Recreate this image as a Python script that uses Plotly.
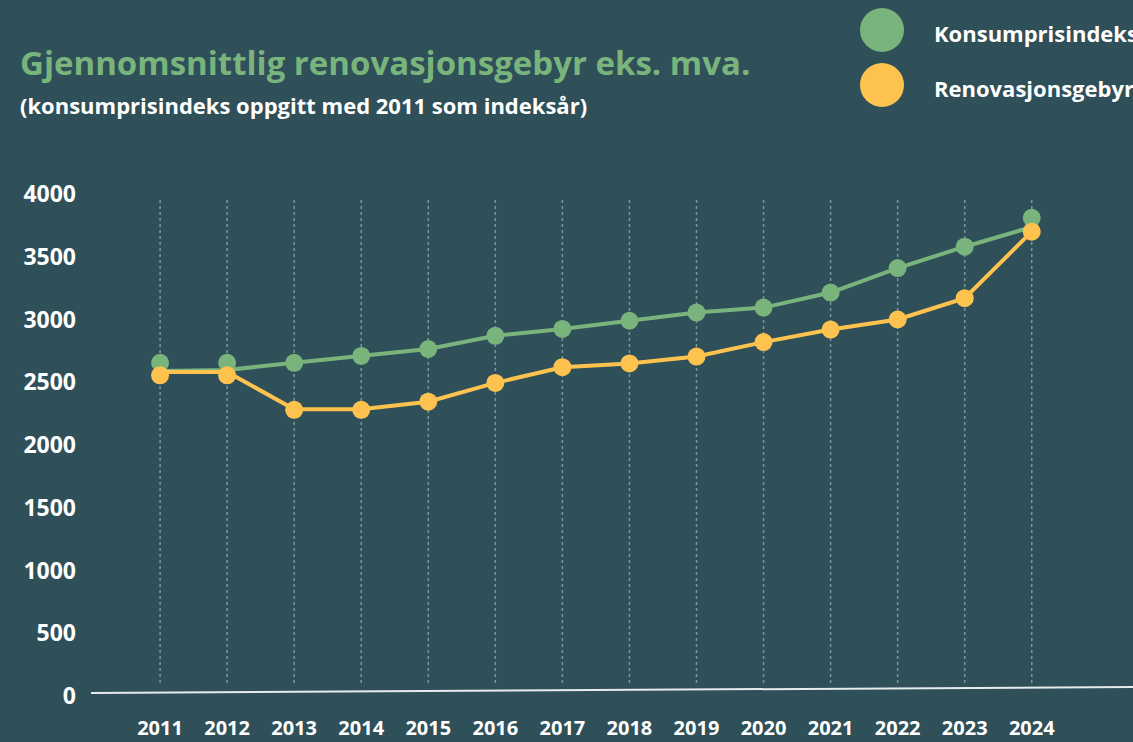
import plotly.graph_objects as go

years = list(range(2011, 2025))
# marker values
kpi_markers = [2655, 2655, 2655, 2710, 2765, 2870, 2925, 2990, 3055, 3095, 3215, 3410, 3580, 3810]
gebyr_markers = [2555, 2555, 2280, 2280, 2345, 2495, 2620, 2650, 2705, 2820, 2920, 3000, 3170, 3700]
# line values (the connecting lines sit slightly off the markers at the ends)
kpi_line = [2590, 2598, 2655, 2710, 2765, 2870, 2925, 2990, 3055, 3095, 3215, 3410, 3580, 3737]
gebyr_line = [2582, 2582, 2285, 2285, 2345, 2495, 2620, 2650, 2705, 2820, 2920, 3000, 3170, 3700]
y_ticks = [0, 500, 1000, 1500, 2000, 2500, 3000, 3500, 4000]

title = "Gjennomsnittlig renovasjonsgebyr eks. mva."
subtitle = "(konsumprisindeks oppgitt med 2011 som indeksår)"
legend_labels = ["Konsumprisindeks", "Renovasjonsgebyr"]

BG = "#2f4f59"
GREEN = "#7ab47d"
YELLOW = "#fdc34e"
W, H = 1133, 742
L, R, T, B = 91, 0, 150, 46
PW, PH = W - L - R, H - T - B

def px(x):
    return (x - L) / PW

def py(y):
    return (H - B - y) / PH

fig = go.Figure()
fig.add_trace(go.Scatter(x=years, y=kpi_line, mode="lines",
                         line=dict(color=GREEN, width=4), hoverinfo="skip", showlegend=False))
fig.add_trace(go.Scatter(x=years, y=gebyr_line, mode="lines",
                         line=dict(color=YELLOW, width=4), hoverinfo="skip", showlegend=False))
fig.add_trace(go.Scatter(x=years, y=kpi_markers, mode="markers", name=legend_labels[0],
                         marker=dict(color=GREEN, size=18), showlegend=False))
fig.add_trace(go.Scatter(x=years, y=gebyr_markers, mode="markers", name=legend_labels[1],
                         marker=dict(color=YELLOW, size=18), showlegend=False))

shapes = []
for yr in years:
    shapes.append(dict(type="line", xref="x", yref="paper", x0=yr, x1=yr,
                       y0=py(683), y1=py(197), line=dict(color="#7f959c", width=1.5, dash="dot"),
                       layer="below"))
shapes.append(dict(type="line", xref="paper", yref="paper", x0=px(91), x1=px(1133),
                   y0=py(693), y1=py(687), line=dict(color="#e6ecee", width=2)))
for cy, col in [(30, GREEN), (85, YELLOW)]:
    shapes.append(dict(type="circle", xref="paper", yref="paper",
                       x0=px(860), x1=px(904), y0=py(cy + 22), y1=py(cy - 22),
                       fillcolor=col, line=dict(width=0)))

annotations = [
    dict(text=title, xref="paper", yref="paper", x=px(18), y=py(63), xanchor="left", yanchor="middle",
         showarrow=False, font=dict(family="Open Sans", size=33, color=GREEN, weight="bold")),
    dict(text=subtitle, xref="paper", yref="paper", x=px(18), y=py(105), xanchor="left", yanchor="middle",
         showarrow=False, font=dict(family="Open Sans", size=22, color="white", weight="bold")),
]
for cy, lab in [(33, legend_labels[0]), (88, legend_labels[1])]:
    annotations.append(dict(text=lab, xref="paper", yref="paper", x=px(932), y=py(cy),
                            xanchor="left", yanchor="middle", showarrow=False,
                            font=dict(family="Open Sans", size=22, color="white", weight="bold")))

fig.update_layout(
    width=W, height=H, autosize=False,
    margin=dict(l=L, r=R, t=T, b=B, pad=0),
    paper_bgcolor=BG, plot_bgcolor=BG,
    shapes=shapes, annotations=annotations,
    xaxis=dict(range=[2009.97, 2025.51], tickmode="array", tickvals=years,
               ticktext=[str(y) for y in years], showgrid=False, zeroline=False,
               showline=False, ticks="", ticklabelstandoff=18,
               tickfont=dict(family="Open Sans", size=20, color="white", weight="bold")),
    yaxis=dict(range=[0, PH / 0.1255], tickmode="array", tickvals=y_ticks,
               showgrid=False, zeroline=False, showline=False, ticks="", ticklabelstandoff=14,
               tickfont=dict(family="Open Sans", size=23, color="white", weight="bold")),
)

fig.write_html("out.html", config={"displayModeBar": False},
               post_script="document.body.style.margin='0';document.body.style.overflow='hidden';")
